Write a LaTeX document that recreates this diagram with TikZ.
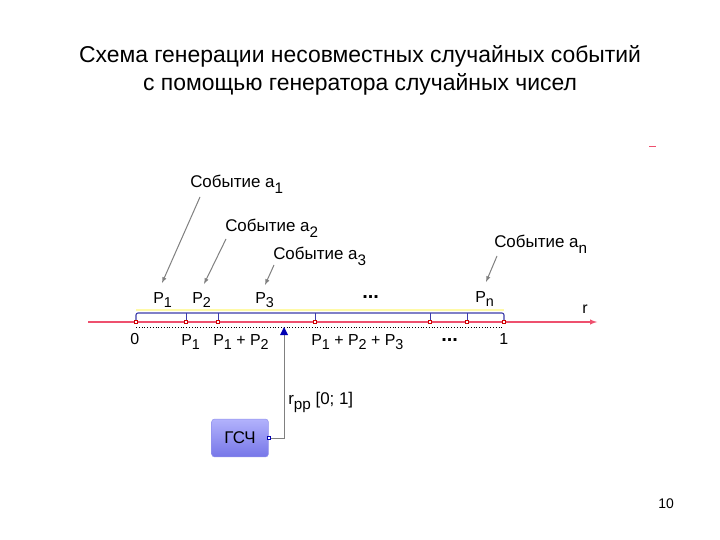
\documentclass[tikz,border=0pt]{standalone}
\usepackage{fontspec}
\setmainfont{Liberation Sans}
\usepackage{graphicx}
\usepackage{tikz}
\usetikzlibrary{arrows,positioning,shapes.geometric}
\definecolor{axisred}{RGB}{238,80,110}
\definecolor{brblue}{RGB}{60,60,170}
\definecolor{boxtop}{RGB}{178,178,252}
\definecolor{boxbot}{RGB}{118,118,232}
\newcommand{\lo}[1]{\raisebox{-0.3em}{\scalebox{0.9}{#1}}}
\tikzstyle{pt}=[rectangle,draw=red!80!black,fill=white,inner sep=0pt,minimum size=3.5pt,line width=0.6pt]
\tikzstyle{lbl}=[font=\fontsize{16}{18}\selectfont,inner sep=0pt,anchor=base west]
\tikzstyle{evt}=[font=\fontsize{17}{19}\selectfont,inner sep=0pt,anchor=base west]
\tikzstyle{dots}=[font=\fontsize{20}{20}\selectfont\bfseries,inner sep=0pt,anchor=base west]
\tikzstyle{ptr}=[->,>=latex,draw=gray,line width=1pt]
\tikzset{every picture/.style={line width=0.5pt}}

\begin{document}
\begin{tikzpicture}[x=1bp,y=-1bp]
\useasboundingbox[fill=white] (0,0) rectangle (720,540);
% title
\node[font=\fontsize{23}{28}\selectfont,anchor=base,inner sep=0pt] (T1) at (360,63)
  {Схема генерации несовместных случайных событий};
\node[font=\fontsize{23}{28}\selectfont,anchor=base,inner sep=0pt] (T2) at (360,91)
  {с помощью генератора случайных чисел};
\draw[axisred,line width=1pt] (649,146) -- (656,146);
% axis
\coordinate (L) at (88,322);
\coordinate (R) at (597,322);
\draw[yellow!35,line width=2pt] (136,310) -- (504,310);
\draw[dotted,line width=0.8pt] (136,327) -- (502,327);
\draw[->,>=latex,axisred,line width=1.4pt] (L) -- (R);
\node[lbl] (r) at (582,313) {r};
% points on the axis
\foreach \n/\x in {x0/136,x1/186,x2/218,x3/315,x4/430,x5/467,x6/504}
  \coordinate (\n) at (\x,322);
\draw[brblue,line width=1.1pt,rounded corners=2pt] (x0) -- (136,313) -- (504,313) -- (x6);
\foreach \n in {x1,x2,x3,x4,x5}
  \draw[brblue,line width=0.6pt] (\n) -- ++(0,-9);
\foreach \n in {x0,x1,x2,x3,x4,x5,x6}
  \node[pt] at (\n) {};
% interval labels
\node[lbl] (p1) at (153,303) {P\lo{1}};
\node[lbl] (p2) at (192,303) {P\lo{2}};
\node[lbl] (p3) at (255,303) {P\lo{3}};
\node[dots] (pd) at (362,298) {...};
\node[lbl] (pn) at (475,302) {P\lo{n}};
% bound labels
\node[lbl] (b0) at (130,344) {0};
\node[lbl] (b1) at (181,345) {P\lo{1}};
\node[lbl] (b2) at (213,345) {P\lo{1} + P\lo{2}};
\node[lbl] (b3) at (311,345) {P\lo{1} + P\lo{2} + P\lo{3}};
\node[dots] (bd) at (441,341) {...};
\node[lbl] (b6) at (499,344) {1};
% events
\node[evt] (a1) at (190,188) {Событие a\lo{1}};
\node[evt] (a2) at (225,232) {Событие a\lo{2}};
\node[evt] (a3) at (273,260) {Событие a\lo{3}};
\node[evt] (an) at (494,248) {Событие a\lo{n}};
\coordinate (s1) at (200,197);
\coordinate (s2) at (226,239);
\coordinate (s3) at (274,265);
\coordinate (sn) at (497,256);
\coordinate (h1) at (162,283);
\coordinate (h2) at (204,284);
\coordinate (h3) at (265,285);
\coordinate (hn) at (486,282);
\draw[ptr] (s1) -- (h1);
\draw[ptr] (s2) -- (h2);
\draw[ptr] (s3) -- (h3);
\draw[ptr] (sn) -- (hn);
% generator
\node[rectangle,rounded corners=3pt,top color=boxtop,bottom color=boxbot,draw=boxbot!80,
  minimum width=57,minimum height=38,font=\fontsize{17}{19}\selectfont] (G) at (240,438) {ГСЧ};
\node[rectangle,draw=blue!70!black,fill=white,inner sep=0pt,minimum size=3.5pt] (Gp) at (G.east) {};
\coordinate (Hit) at (284,327);
\draw[gray,line width=0.8pt] (Gp) -| ([yshift=-3]Hit);
\fill[blue!70!black] (Hit) -- ++(-4,8) -- ++(8,0) -- cycle;
\node[lbl,font=\fontsize{17}{19}\selectfont] (rpp) at (288,404) {r\lo{pp} [0; 1]};
% page number
\node[font=\fontsize{14}{16}\selectfont,anchor=base,inner sep=0pt] (pg) at (666,508) {10};
\end{tikzpicture}
\end{document}
